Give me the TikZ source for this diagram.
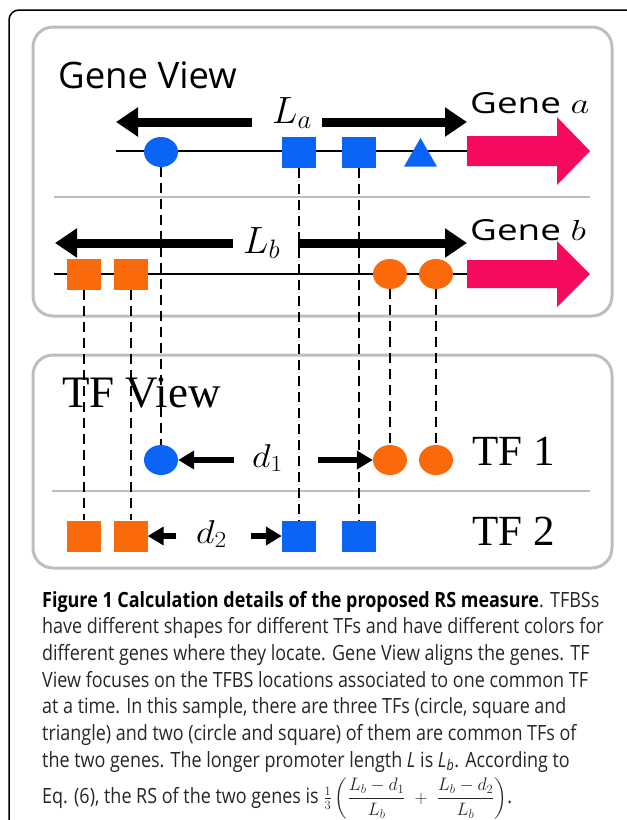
\RequirePackage{fix-cm}
\documentclass[tikz,border=0pt]{standalone}
\usepackage{fontspec}
\usepackage{amsmath}
\newfontfamily\osans{Open Sans}
\newfontfamily\oserif{Liberation Serif}
\usetikzlibrary{arrows.meta,shapes.geometric}
\pgfdeclarelayer{bottom}
\pgfdeclarelayer{links}
\pgfsetlayers{bottom,links,main}
\definecolor{tfblue}{HTML}{0A64F5}
\definecolor{tforange}{HTML}{FA6A0A}
\definecolor{genepink}{HTML}{F50A5F}
\definecolor{boxgray}{HTML}{BEBEBE}
\definecolor{captxt}{HTML}{262626}
\newcommand{\capx}[1]{\scalebox{0.855}[1]{#1}}
\tikzset{
  bsq/.style={rectangle, minimum width=34pt, minimum height=31pt, inner sep=0pt, fill=tfblue},
  osq/.style={rectangle, minimum width=34pt, minimum height=31pt, inner sep=0pt, fill=tforange},
  bcirc/.style={ellipse, minimum width=34pt, minimum height=30pt, inner sep=0pt, fill=tfblue},
  ocirc/.style={ellipse, minimum width=34pt, minimum height=30pt, inner sep=0pt, fill=tforange},
  btri/.style={regular polygon, regular polygon sides=3, minimum size=38pt, inner sep=0pt, fill=tfblue},
  viewbox/.style={draw=boxgray, line width=3pt, rounded corners=20pt},
  sepline/.style={draw=boxgray, line width=1.5pt},
  dnaline/.style={line width=2pt},
  tflink/.style={line width=2pt, dash pattern=on 10pt off 6pt},
  bigarrow/.style={line width=9pt, -{Triangle[length=22pt,width=28pt]}},
  smallarrow/.style={line width=6.5pt, -{Triangle[length=16pt,width=18pt]}},
  lbl/.style={inner sep=0pt, anchor=base west},
  capline/.style={lbl, text=captxt, font=\osans\fontsize{21}{26}\selectfont},
}
\begin{document}
\begin{tikzpicture}[x=1pt,y=-1pt]
\useasboundingbox (0,0) rectangle (627,820);
% outer frame
\draw[line width=1.5pt, rounded corners=10pt] (9,820) -- (9,10) -- (627,10);
% view boxes
\begin{pgfonlayer}{bottom}
\draw[viewbox] (33,27) rectangle (612,316);
\draw[viewbox] (33,355) rectangle (612,568);
\draw[sepline] (54,197) -- (590,197);
\draw[sepline] (52,491) -- (590,491);
\end{pgfonlayer}
% gene lines
\coordinate (aS) at (116,151);
\coordinate (aE) at (467,151);
\coordinate (bS) at (54,274);
\coordinate (bE) at (467,274);
\draw[dnaline] (aS) -- (aE);
\draw[dnaline] (bS) -- (bE);
% pink gene arrows
\fill[genepink] (467,136) -- (557,136) -- (557,117) -- (590,151) -- (557,185) -- (557,166) -- (467,166) -- cycle;
\fill[genepink] (467,260) -- (557,260) -- (557,241) -- (590,274) -- (557,307) -- (557,288) -- (467,288) -- cycle;
% gene a sites
\node[bcirc] (ga1) at (161,152) {};
\node[bsq] (ga2) at (299,152.5) {};
\node[bsq] (ga3) at (359,152.5) {};
\node[btri] (ga4) at (420.5,157) {};
% gene b sites
\node[osq] (gb1) at (83.5,274.5) {};
\node[osq] (gb2) at (130.5,274.5) {};
\node[ocirc] (gb3) at (390,274) {};
\node[ocirc] (gb4) at (436,274) {};
% TF 1 row
\node[bcirc] (t1a) at (161,460) {};
\node[ocirc] (t1b) at (390,460) {};
\node[ocirc] (t1c) at (436,460) {};
% TF 2 row
\node[osq] (t2a) at (83.5,536) {};
\node[osq] (t2b) at (130.5,536) {};
\node[bsq] (t2c) at (299,536) {};
\node[bsq] (t2d) at (359,536) {};
% dashed links
\begin{pgfonlayer}{links}
\draw[tflink] (gb1.south) -- (t2a.north);
\draw[tflink] (gb2.south) -- (t2b.north);
\draw[tflink] (ga1.south) -- (t1a.north);
\draw[tflink] (ga2.south) -- (t2c.north);
\draw[tflink] (ga3.south) -- (t2d.north);
\draw[tflink] (gb3.south) -- (t1b.north);
\draw[tflink] (gb4.south) -- (t1c.north);
\end{pgfonlayer}
% labels
\node[lbl] (gview) at (58,88) {\osans\fontsize{36.5}{40}\selectfont Gene View};
\node[lbl] (genea) at (470,113) {\osans\fontsize{29}{34}\selectfont\scalebox{1.27}[1]{Gene $a$}};
\node[lbl] (geneb) at (470,240) {\osans\fontsize{29}{34}\selectfont\scalebox{1.27}[1]{Gene $b$}};
\node[lbl] (La) at (272,123) {\fontsize{38}{40}\selectfont $L_a$};
\node[lbl] (Lb) at (243,253) {\fontsize{38}{40}\selectfont $L_b$};
\node[lbl] (tfview) at (62,407) {\oserif\fontsize{45}{50}\selectfont TF View};
\node[lbl] (tf1) at (472,465) {\oserif\fontsize{43}{48}\selectfont TF 1};
\node[lbl] (tf2) at (472,545) {\oserif\fontsize{43}{48}\selectfont TF 2};
\node[lbl] (d1) at (252,467) {\fontsize{33}{36}\selectfont\scalebox{1.1}[1]{$d_1$}};
\node[lbl] (d2) at (196,543) {\fontsize{33}{36}\selectfont\scalebox{1.1}[1]{$d_2$}};
% length arrows
\coordinate (LaLs) at (252,122); \coordinate (LaLt) at (116,122);
\coordinate (LaRs) at (322,122); \coordinate (LaRt) at (467,122);
\coordinate (LbLs) at (233,243); \coordinate (LbLt) at (55,243);
\coordinate (LbRs) at (298,243); \coordinate (LbRt) at (467,243);
\draw[bigarrow] (LaLs) -- (LaLt);
\draw[bigarrow] (LaRs) -- (LaRt);
\draw[bigarrow] (LbLs) -- (LbLt);
\draw[bigarrow] (LbRs) -- (LbRt);
% distance arrows
\coordinate (d1Ls) at (234,460); \coordinate (d1Rs) at (318,460);
\coordinate (d2Ls) at (176,536); \coordinate (d2Rs) at (251,536);
\draw[smallarrow] (d1Ls) -- (t1a.east);
\draw[smallarrow] (d1Rs) -- (t1b.west);
\draw[smallarrow] (d2Ls) -- (t2b.east);
\draw[smallarrow] (d2Rs) -- (t2c.west);
% caption
\node[capline] (c1) at (42,607) {\capx{{\bfseries\color{black}Figure 1 Calculation details of the proposed RS measure}. TFBSs}};
\node[capline] (c2) at (42,633.7) {\capx{have different shapes for different TFs and have different colors for}};
\node[capline] (c3) at (42,660.3) {\capx{different genes where they locate. Gene View aligns the genes. TF}};
\node[capline] (c4) at (42,687) {\capx{View focuses on the TFBS locations associated to one common TF}};
\node[capline] (c5) at (42,713.7) {\capx{at a time. In this sample, there are three TFs (circle, square and}};
\node[capline] (c6) at (42,740.3) {\capx{triangle) and two (circle and square) of them are common TFs of}};
\node[capline] (c7) at (42,767) {\capx{the two genes. The longer promoter length {\itshape L} is {\itshape L}\textsubscript{\itshape b}. According to}};
\node[capline] (c8) at (42,803) {\capx{Eq. (6), the RS of the two genes is }{\fontsize{18}{20}\selectfont$\tfrac{1}{3}\left(\dfrac{L_b-d_1}{L_b}\;+\;\dfrac{L_b-d_2}{L_b}\right)$}\capx{.}};
\end{tikzpicture}
\end{document}
